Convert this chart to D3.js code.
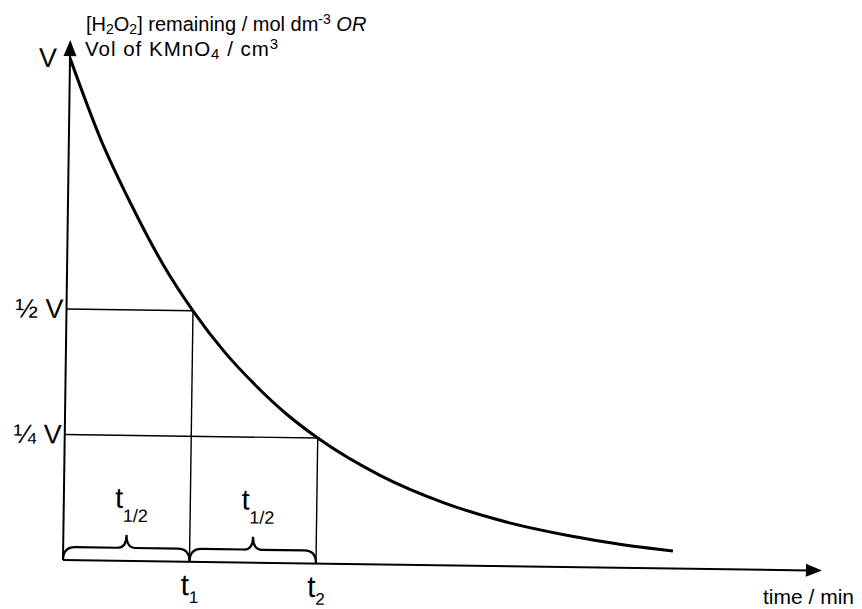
<!DOCTYPE html>
<html>
<head>
<meta charset="utf-8">
<script src="https://cdn.jsdelivr.net/npm/d3@7"></script>
<style>
  html, body { margin: 0; padding: 0; background: #fff; }
  svg { display: block; }
  text { font-family: "Liberation Sans", Arial, Helvetica, sans-serif; fill: #000; }
</style>
</head>
<body>
<svg id="chart" width="862" height="609"></svg>
<script>
// ---- data (time in units of the half-life, amount as fraction of V) ----
const timeHalfLives   = [0, 0.25, 0.5, 0.75, 1.0, 1.25, 1.5, 1.75, 2.0, 2.5, 3.0, 3.5, 4.0, 4.4, 4.82];
const fractionLeft    = [1.0, 0.84, 0.71, 0.595, 0.5, 0.42, 0.354, 0.297, 0.25, 0.177, 0.125, 0.088, 0.0625, 0.047, 0.035];
const yTickValues     = [1, 0.5, 0.25];
const yTickLabels     = ["V", "½ V", "¼ V"];
const xTickValues     = [1, 2];
const xTickMain       = ["t", "t"];
const xTickSub        = ["1", "2"];
const halfLifeSpans   = [[0, 1], [1, 2]];   // braces marking each half-life
const guideLevels     = [[1, 0.5], [2, 0.25]]; // (time, fraction) corners of the construction lines

const svg = d3.select("#chart");
const origin = { x: 63, y: 560 };
const x = d3.scaleLinear().domain([0, 6]).range([origin.x, origin.x + 759]);
const y = d3.scaleLinear().domain([0, 1]).range([origin.y, 58]);
const yTop = 40; // top of y-axis arrow

const g = svg.append("g").attr("transform", `rotate(0.8, ${origin.x}, ${origin.y})`);

// construction lines
guideLevels.forEach(([t, f]) => {
  g.append("line").attr("x1", x(0)).attr("x2", x(t)).attr("y1", y(f)).attr("y2", y(f))
    .attr("stroke", "#000").attr("stroke-width", 1.4);
  g.append("line").attr("x1", x(t)).attr("x2", x(t)).attr("y1", y(0)).attr("y2", y(f))
    .attr("stroke", "#000").attr("stroke-width", 1.4);
});

// axes (d3 axes with hidden ticks; lines drawn as arrows)
const yAxis = d3.axisLeft(y).tickValues(yTickValues).tickSize(0).tickPadding(3)
  .tickFormat((d, i) => yTickLabels[i]);
const yg = g.append("g").attr("transform", `translate(${origin.x},0)`).call(yAxis);
yg.select(".domain").remove();
yg.selectAll("text").attr("font-size", 27).attr("font-family", null);
yg.selectAll(".tick").filter(d => d === 1).select("text").attr("x", -13);

const xAxis = d3.axisBottom(x).tickValues(xTickValues).tickSize(0).tickPadding(12)
  .tickFormat(() => "");
const xg = g.append("g").attr("transform", `translate(0,${origin.y})`).call(xAxis);
xg.select(".domain").remove();
xg.selectAll(".tick text").each(function(d, i) {
  const t = d3.select(this).attr("font-size", 30).attr("font-family", null).attr("dy", "0.71em");
  t.append("tspan").text(xTickMain[i]);
  t.append("tspan").attr("font-size", 17).attr("dy", 8).text(xTickSub[i]);
});

// axis lines
g.append("line").attr("x1", x(0)).attr("x2", x(0)).attr("y1", y(0)).attr("y2", yTop + 12)
  .attr("stroke", "#000").attr("stroke-width", 2);
g.append("line").attr("x1", x(0)).attr("x2", x.range()[1] - 12).attr("y1", y(0)).attr("y2", y(0))
  .attr("stroke", "#000").attr("stroke-width", 2);
// arrow heads
g.append("path")
  .attr("d", `M${x(0)},${yTop} L${x(0) - 6.5},${yTop + 16} L${x(0) + 6.5},${yTop + 16} Z`)
  .attr("fill", "#000");
const xe = x.range()[1];
g.append("path")
  .attr("d", `M${xe},${y(0)} L${xe - 16},${y(0) - 6.5} L${xe - 16},${y(0) + 6.5} Z`)
  .attr("fill", "#000");

// decay curve
const line = d3.line().x(d => x(d[0])).y(d => y(d[1])).curve(d3.curveMonotoneX);
g.append("path").datum(timeHalfLives.map((t, i) => [t, fractionLeft[i]]))
  .attr("d", line).attr("fill", "none").attr("stroke", "#000").attr("stroke-width", 3);

// braces
halfLifeSpans.forEach(([a, b]) => {
  const x0 = x(a), x1 = x(b), xm = (x0 + x1) / 2;
  const yb = y(0), yf = yb - 13, yt = yb - 26;
  const d = `M${x0},${yb} Q${x0},${yf} ${x0 + 12},${yf} L${xm - 9},${yf} Q${xm},${yf} ${xm},${yt}` +
            ` Q${xm},${yf} ${xm + 9},${yf} L${x1 - 12},${yf} Q${x1},${yf} ${x1},${yb}`;
  g.append("path").attr("d", d).attr("fill", "none").attr("stroke", "#000").attr("stroke-width", 2.2);
  const lab = g.append("text").attr("x", xm - 12).attr("y", yb - 53).attr("font-size", 29);
  lab.append("tspan").text("t");
  lab.append("tspan").attr("font-size", 18).attr("dy", 14).text("1/2");
});

// axis titles
const title = svg.append("text").attr("x", 86).attr("y", 31).attr("font-size", 20);
title.append("tspan").text("[H");
title.append("tspan").attr("font-size", 14).attr("dy", 3).text("2");
title.append("tspan").attr("dy", -3).text("O");
title.append("tspan").attr("font-size", 14).attr("dy", 3).text("2");
title.append("tspan").attr("dy", -3).text("] remaining / mol dm");
title.append("tspan").attr("font-size", 14).attr("dy", -7).text("-3");
title.append("tspan").attr("dy", 7).text(" ");
title.append("tspan").attr("font-style", "italic").text("OR");

const title2 = svg.append("text").attr("x", 85).attr("y", 56).attr("font-size", 20.5)
  .attr("letter-spacing", 1);
title2.append("tspan").text("Vol of KMnO");
title2.append("tspan").attr("font-size", 15).attr("dy", 3).text("4");
title2.append("tspan").attr("dy", -3).text(" / cm");
title2.append("tspan").attr("font-size", 15).attr("dy", -7).text("3");

svg.append("text").attr("x", 763).attr("y", 604).attr("font-size", 21).text("time / min");
</script>
</body>
</html>
